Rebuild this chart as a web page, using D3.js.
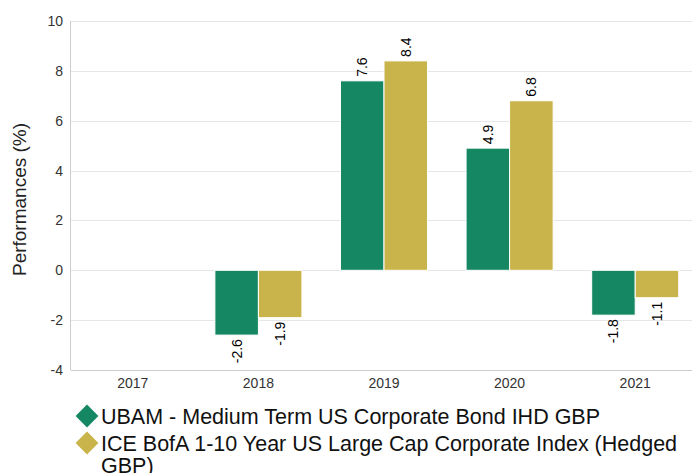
<!DOCTYPE html>
<html>
<head>
<meta charset="utf-8">
<script src="https://cdn.jsdelivr.net/npm/d3@7"></script>
<style>
  body { margin: 0; background: #fff; }
  svg { display: block; font-family: "Liberation Sans", Arial, sans-serif; }
</style>
</head>
<body>
<svg id="chart" width="692" height="473"></svg>
<script>
// data
const years = ["2017", "2018", "2019", "2020", "2021"];
const fundValues = [null, -2.6, 7.6, 4.9, -1.8];
const indexValues = [null, -1.9, 8.4, 6.8, -1.1];
const seriesNames = [
  "UBAM - Medium Term US Corporate Bond IHD GBP",
  "ICE BofA 1-10 Year US Large Cap Corporate Index (Hedged GBP)",
];
const seriesColors = ["#168763", "#c8b44a"];
const yTicks = [-4, -2, 0, 2, 4, 6, 8, 10];

const width = 692, height = 473;
const margin = { top: 21, right: 0, bottom: 103, left: 71 };

const svg = d3.select("#chart");

// the plot runs a little past the right edge in the reference
const x = d3.scaleBand()
  .domain(years)
  .range([70, 698])
  .paddingInner(0.307)
  .paddingOuter(0.1535);

const xSub = d3.scaleBand()
  .domain([0, 1])
  .range([0, x.bandwidth()]);

const y = d3.scaleLinear()
  .domain([-4, 10])
  .range([height - margin.bottom, margin.top]);

// gridlines
svg.append("g")
  .selectAll("line")
  .data(yTicks)
  .join("line")
  .attr("x1", margin.left)
  .attr("x2", width - margin.right)
  .attr("y1", (d) => Math.round(y(d)) + 0.5)
  .attr("y2", (d) => Math.round(y(d)) + 0.5)
  .attr("stroke", "#e6e6e6")
  .attr("stroke-width", 1);

// axis lines
svg.append("line")
  .attr("x1", margin.left - 0.5).attr("x2", margin.left - 0.5)
  .attr("y1", margin.top).attr("y2", y(-4))
  .attr("stroke", "#cccccc");
svg.append("line")
  .attr("x1", margin.left).attr("x2", width)
  .attr("y1", Math.round(y(-4)) + 0.5).attr("y2", Math.round(y(-4)) + 0.5)
  .attr("stroke", "#cccccc");

// y tick labels
svg.append("g")
  .selectAll("text")
  .data(yTicks)
  .join("text")
  .attr("x", margin.left - 8)
  .attr("y", (d) => y(d) + 5)
  .attr("text-anchor", "end")
  .attr("font-size", 14)
  .attr("fill", "#333")
  .text((d) => d);

// x tick labels
svg.append("g")
  .selectAll("text")
  .data(years)
  .join("text")
  .attr("x", (d) => x(d) + x.bandwidth() / 2)
  .attr("y", y(-4) + 18)
  .attr("text-anchor", "middle")
  .attr("font-size", 14)
  .attr("fill", "#333")
  .text((d) => d);

// y axis title
svg.append("text")
  .attr("transform", `translate(26,${(margin.top + y(-4)) / 2 + 4}) rotate(-90)`)
  .attr("text-anchor", "middle")
  .attr("font-size", 19)
  .attr("fill", "#222")
  .text("Performances (%)");

// bars
const bars = [];
years.forEach((yr, i) => {
  [fundValues[i], indexValues[i]].forEach((v, s) => {
    if (v != null) bars.push({ year: yr, s, v });
  });
});

svg.append("g")
  .selectAll("rect")
  .data(bars)
  .join("rect")
  .attr("x", (d) => x(d.year) + xSub(d.s))
  .attr("width", xSub.bandwidth())
  .attr("y", (d) => y(Math.max(0, d.v)))
  .attr("height", (d) => Math.abs(y(d.v) - y(0)))
  .attr("fill", (d) => seriesColors[d.s])
  .attr("stroke", "#fff")
  .attr("stroke-width", 1);

// value labels (rotated)
svg.append("g")
  .selectAll("text")
  .data(bars)
  .join("text")
  .attr("transform", (d) => {
    const cx = x(d.year) + xSub(d.s) + xSub.bandwidth() / 2 + 5;
    const cy = d.v >= 0 ? y(d.v) - 4 : y(d.v) + 4;
    return `translate(${cx},${cy}) rotate(-90)`;
  })
  .attr("text-anchor", (d) => (d.v >= 0 ? "start" : "end"))
  .attr("font-size", 14)
  .attr("fill", "#000")
  .text((d) => d.v.toFixed(1));

// legend
const legend = svg.append("g");
const legendX = 101, legendMaxW = 585;
let ly = 424;
seriesNames.forEach((name, i) => {
  legend.append("path")
    .attr("d", d3.symbol(d3.symbolDiamond2, 330)())
    .attr("fill", seriesColors[i])
    .attr("transform", `translate(87,${ly - 8})`);
  const t = legend.append("text")
    .attr("x", legendX)
    .attr("y", ly)
    .attr("font-size", 21.5)
    .attr("fill", "#111");
  // simple word wrap
  const words = name.split(" ");
  let line = [];
  let tspan = t.append("tspan").attr("x", legendX).attr("y", ly);
  words.forEach((w) => {
    line.push(w);
    tspan.text(line.join(" "));
    if (tspan.node().getComputedTextLength() > legendMaxW && line.length > 1) {
      line.pop();
      tspan.text(line.join(" "));
      line = [w];
      ly += 22;
      tspan = t.append("tspan").attr("x", legendX).attr("y", ly).text(w);
    }
  });
  ly += 27;
});
</script>
</body>
</html>
